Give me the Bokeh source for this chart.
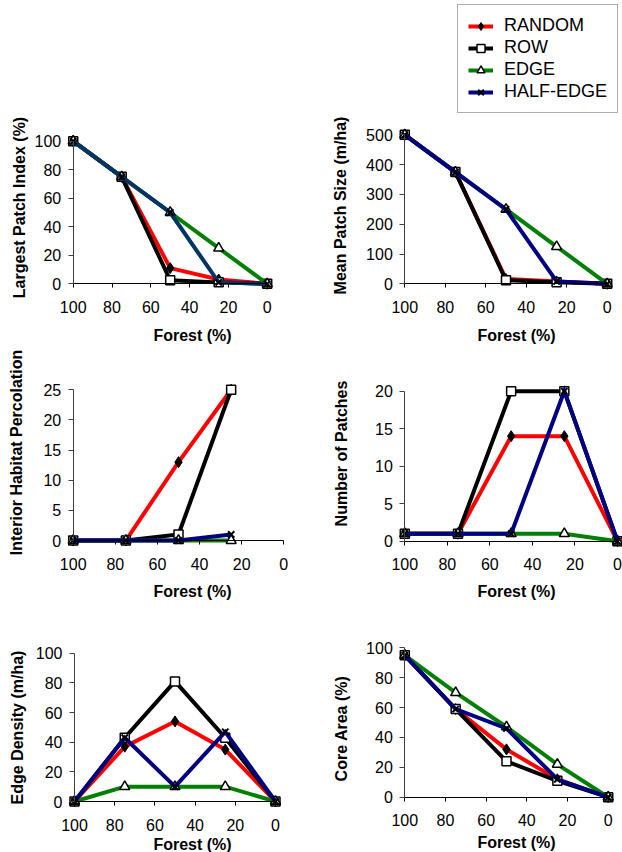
import math
from bokeh.plotting import figure
from bokeh.models import Range1d, LinearAxis, FixedTicker, Label, Legend, LegendItem
from bokeh.layouts import column, row
from bokeh.embed import file_html
from bokeh.resources import INLINE

# ---------------- data ----------------
SERIES = ["RANDOM", "ROW", "EDGE", "HALF-EDGE"]
FOREST = [100, 75, 50, 25, 0]
FOREST_IHP = [100, 75, 50, 25]
X_TICKS = [0, 20, 40, 60, 80, 100]

lpi_random = [100, 75, 11, 3, 0]
lpi_row = [100, 75, 2.5, 1, 0]
lpi_edge = [100, 75, 50, 25, 0]
lpi_half = [100, 75, 50, 1, 0]

mps_random = [500, 375, 16, 8, 0]
mps_row = [500, 375, 12, 5, 0]
mps_edge = [500, 375, 250, 125, 0]
mps_half = [500, 375, 250, 8, 0]

ihp_random = [0, 0, 13, 25]
ihp_row = [0, 0, 1, 25]
ihp_edge = [0, 0, 0, 0]
ihp_half = [0, 0, 0, 1]

np_random = [1, 1, 14, 14, 0]
np_row = [1, 1, 20, 20, 0]
np_edge = [1, 1, 1, 1, 0]
np_half = [1, 1, 1, 20, 0]

ed_random = [0, 37, 54, 35, 0]
ed_row = [0, 43, 81, 43, 0]
ed_edge = [0, 10, 10, 10, 0]
ed_half = [0, 43, 10, 47, 0]

ca_random = [95, 59, 32, 12, 0]
ca_row = [95, 59, 24, 11, 0]
ca_edge = [95, 70, 47, 22, 0]
ca_half = [95, 59, 46, 12, 0]

# ---------------- styles ----------------
FONT = "Liberation Sans"
COLORS = {"RANDOM": "#FF0000", "ROW": "#000000", "EDGE": "#008000", "HALF-EDGE": "#000080"}
MARKERS = {
    "RANDOM": dict(marker="diamond", size=11, fill_color="black", line_color="black", line_width=1),
    "ROW": dict(marker="square", size=9, fill_color="white", line_color="black", line_width=1.5),
    "EDGE": dict(marker="triangle", size=10, fill_color="white", line_color="black", line_width=1.5),
    "HALF-EDGE": dict(marker="x", size=9, line_color="black", line_width=2),
}
LINE_W = 4


def make_panel(fx, fy, fw, fh, X100, X0, Ytop, Y0, ymax, yticks, xs, ys_list,
               ytitle, ytitle_pos, xtitle_pos, colors=None):
    """fx, fy, fw, fh: figure box on the page; X100/X0, Ytop/Y0: page pixels of the
    axis end points.  The frame fills the whole figure so nothing is clipped."""
    colors = colors or COLORS

    def dx(px):
        return 100.0 * (X0 - px) / (X0 - X100)

    def dy(py):
        return ymax * (Y0 - py) / (Y0 - Ytop)

    p = figure(width=fw, height=fh,
               x_range=Range1d(start=dx(fx), end=dx(fx + fw)),
               y_range=Range1d(start=dy(fy + fh), end=dy(fy)),
               x_axis_location=None, y_axis_location=None,
               output_backend="svg", toolbar_location=None,
               min_border_left=0, min_border_right=0,
               min_border_top=0, min_border_bottom=0)
    p.outline_line_color = None
    p.background_fill_color = "white"
    p.border_fill_color = "white"
    p.grid.visible = False

    xa = LinearAxis(fixed_location=0, bounds=(0, 100), ticker=FixedTicker(ticks=X_TICKS))
    ya = LinearAxis(fixed_location=100, bounds=(0, ymax), ticker=FixedTicker(ticks=yticks))
    for ax, col, out, so in ((xa, "black", 4, 13), (ya, "#404040", 5, 7)):
        ax.axis_line_color = col
        ax.axis_line_width = 1
        ax.major_tick_line_color = col
        ax.major_tick_in = 0
        ax.major_tick_out = out
        ax.minor_tick_line_color = None
        ax.major_label_standoff = so
        ax.major_label_text_font = FONT
        ax.major_label_text_font_size = "16px"
        ax.major_label_text_color = "black"
    p.add_layout(xa, "below")
    p.add_layout(ya, "left")

    rends = {}
    for name, ys in zip(SERIES, ys_list):
        ln = p.line(xs, ys, line_color=colors[name], line_width=LINE_W, line_join="miter")
        sc = p.scatter(xs, ys, **MARKERS[name])
        rends[name] = (ln, sc)

    p.add_layout(Label(x=dx(xtitle_pos[0]), y=dy(xtitle_pos[1]), text="Forest (%)",
                       text_align="center", text_baseline="middle", text_font=FONT,
                       text_font_size="16px", text_font_style="bold", text_color="black"))
    p.add_layout(Label(x=dx(ytitle_pos[0]), y=dy(ytitle_pos[1]), text=ytitle, angle=math.pi / 2,
                       text_align="center", text_baseline="middle", text_font=FONT,
                       text_font_size="16px", text_font_style="bold", text_color="black"))
    return p, rends


W = 311
p1, _ = make_panel(0, 0, W, 345, 72.7, 266.7, 140.7, 283.3, 100, [0, 20, 40, 60, 80, 100],
                   FOREST, [lpi_random, lpi_row, lpi_edge, lpi_half],
                   "Largest Patch Index (%)", (18.5, 207), (192, 335),
                   colors=dict(COLORS, **{"HALF-EDGE": "#003366"}))
p2, r2 = make_panel(311, 0, W, 345, 404.3, 606.7, 134.3, 283.3, 500, [0, 100, 200, 300, 400, 500],
                    FOREST, [mps_random, mps_row, mps_edge, mps_half],
                    "Mean Patch Size (m/ha)", (340, 205), (516, 335))
p3, _ = make_panel(0, 345, W, 260, 72.7, 283.3, 389.3, 540, 25, [0, 5, 10, 15, 20, 25],
                   FOREST_IHP, [ihp_random, ihp_row, ihp_edge, ihp_half],
                   "Interior Habitat Percolation", (16, 452), (192, 591))
p4, _ = make_panel(311, 345, W, 260, 404.3, 617, 390.7, 540.7, 20, [0, 5, 10, 15, 20],
                   FOREST, [np_random, np_row, np_edge, np_half],
                   "Number of Patches", (341, 453), (516, 591))
p5, _ = make_panel(0, 605, W, 247, 74, 275, 652.7, 801, 100, [0, 20, 40, 60, 80, 100],
                   FOREST, [ed_random, ed_row, ed_edge, ed_half],
                   "Edge Density (m/ha)", (17, 727), (192, 844))
p6, _ = make_panel(311, 605, W, 247, 404.3, 607.7, 647.3, 796.7, 100, [0, 20, 40, 60, 80, 100],
                   FOREST, [ca_random, ca_row, ca_edge, ca_half],
                   "Core Area (%)", (341, 728), (516, 842))

# legend above the second panel: page box ~457..618 x 9..113 (frame of p2 starts at x=311, bottom y=345)
legend = Legend(items=[LegendItem(label=n, renderers=list(r2[n])) for n in SERIES],
                location=(457 - 311, 345 - 113), orientation="vertical",
                label_text_font=FONT, label_text_font_size="18px", label_text_color="black",
                glyph_width=25, glyph_height=20, label_height=20, label_standoff=11,
                spacing=1, padding=10, margin=0,
                border_line_color="#606060", border_line_width=1,
                background_fill_color="white", background_fill_alpha=1)
p2.add_layout(legend, "center")

layout = column(row(p1, p2), row(p3, p4), row(p5, p6))
open("out.html", "w").write(file_html(layout, INLINE))
